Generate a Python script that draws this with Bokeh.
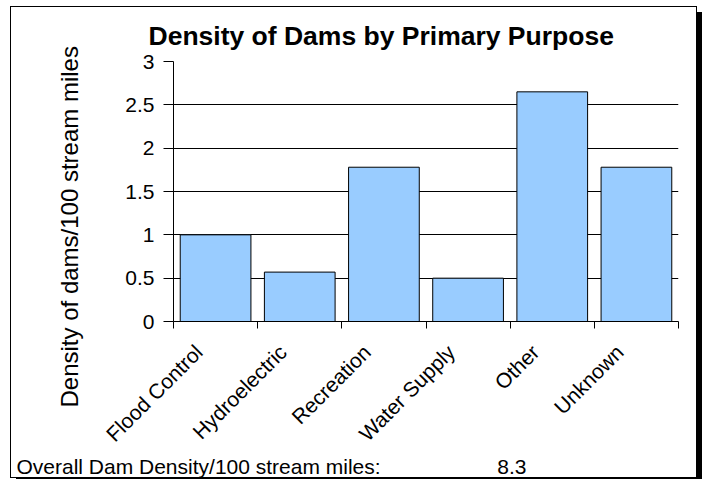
from math import pi
from bokeh.plotting import figure
from bokeh.models import (Range1d, FixedTicker, NumeralTickFormatter, Title, ColumnDataSource)
from bokeh.embed import file_html
from bokeh.resources import INLINE

categories = ["Flood Control", "Hydroelectric", "Recreation", "Water Supply", "Other", "Unknown"]
density = [1.0, 0.57, 1.78, 0.5, 2.65, 1.78]
y_ticks = [0, 0.5, 1, 1.5, 2, 2.5, 3]
y_title = "Density of dams/100 stream miles"
overall_label = "Overall Dam Density/100 stream miles:"
overall_density = 8.3

FONT = "Liberation Sans"
NBSP = "\u00a0"
n = len(categories)
positions = list(range(n))
label_shift = 0.2  # category labels sit slightly left of the bar centre

p = figure(x_range=Range1d(-0.5, n - 0.5),
           y_range=Range1d(0, 3),
           frame_width=505, frame_height=260,
           min_border_left=162, min_border_right=18, min_border_top=54, min_border_bottom=156,
           output_backend="svg", toolbar_location=None, tools="")
p.styles = {"border": "1px solid black", "box-shadow": "6px 6px 0 0 black",
            "margin-left": "10px", "margin-top": "6px"}
p.background_fill_color = "white"
p.border_fill_color = "white"
p.outline_line_color = None

src = ColumnDataSource(dict(x=positions, cat=categories, val=density))
p.vbar(x="x", top="val", width=0.84, source=src,
       fill_color="#99CCFF", line_color="black", line_width=1)

# y axis
ya = p.yaxis[0]
ya.ticker = FixedTicker(ticks=y_ticks)
ya.formatter = NumeralTickFormatter(format="0.[0]")
ya.major_tick_out = 10
ya.major_tick_in = 0
ya.minor_tick_out = 0
ya.axis_line_color = "black"
ya.major_tick_line_color = "black"
ya.major_label_text_font = FONT
ya.major_label_text_font_size = "21px"
ya.major_label_text_color = "black"
ya.major_label_standoff = 9

# y-axis title, starting a little below the frame's bottom edge
ytitle = Title(text=y_title, align="left", offset=-86, text_font=FONT,
               text_font_size="24px", text_font_style="normal", text_color="black",
               standoff=80)
p.add_layout(ytitle, "left")

p.ygrid.ticker = FixedTicker(ticks=y_ticks)
p.ygrid.grid_line_color = "black"
p.ygrid.grid_line_width = 1
p.xgrid.visible = False

# x axis: labels near category centres, ticks at category edges
label_pos = [i - label_shift for i in positions]
xa = p.xaxis[0]
xa.ticker = FixedTicker(ticks=label_pos, minor_ticks=[i - 0.5 for i in range(n + 1)])
xa.major_label_overrides = {x: c for x, c in zip(label_pos, categories)}
xa.major_tick_out = 0
xa.major_tick_in = 0
xa.minor_tick_out = 7
xa.minor_tick_in = 0
xa.minor_tick_line_color = "black"
xa.axis_line_color = "black"
xa.major_label_orientation = pi / 4
xa.major_label_standoff = 20
xa.major_label_text_font = FONT
xa.major_label_text_font_size = "21px"
xa.major_label_text_color = "black"

# title
p.title.text = "Density of Dams by Primary Purpose"
p.title.align = "left"
p.title.offset = -25
p.title.text_font = FONT
p.title.text_font_size = "26.5px"
p.title.text_font_style = "bold"
p.title.text_color = "black"
p.title.standoff = 22

# footer
footer = Title(text=overall_label + NBSP * 20 + f"{overall_density}",
               align="left", offset=-157, text_font=FONT, text_font_size="21px",
               text_font_style="normal", text_color="black", standoff=-8)
p.add_layout(footer, "below")

open("out.html", "w").write(file_html(p, INLINE))
